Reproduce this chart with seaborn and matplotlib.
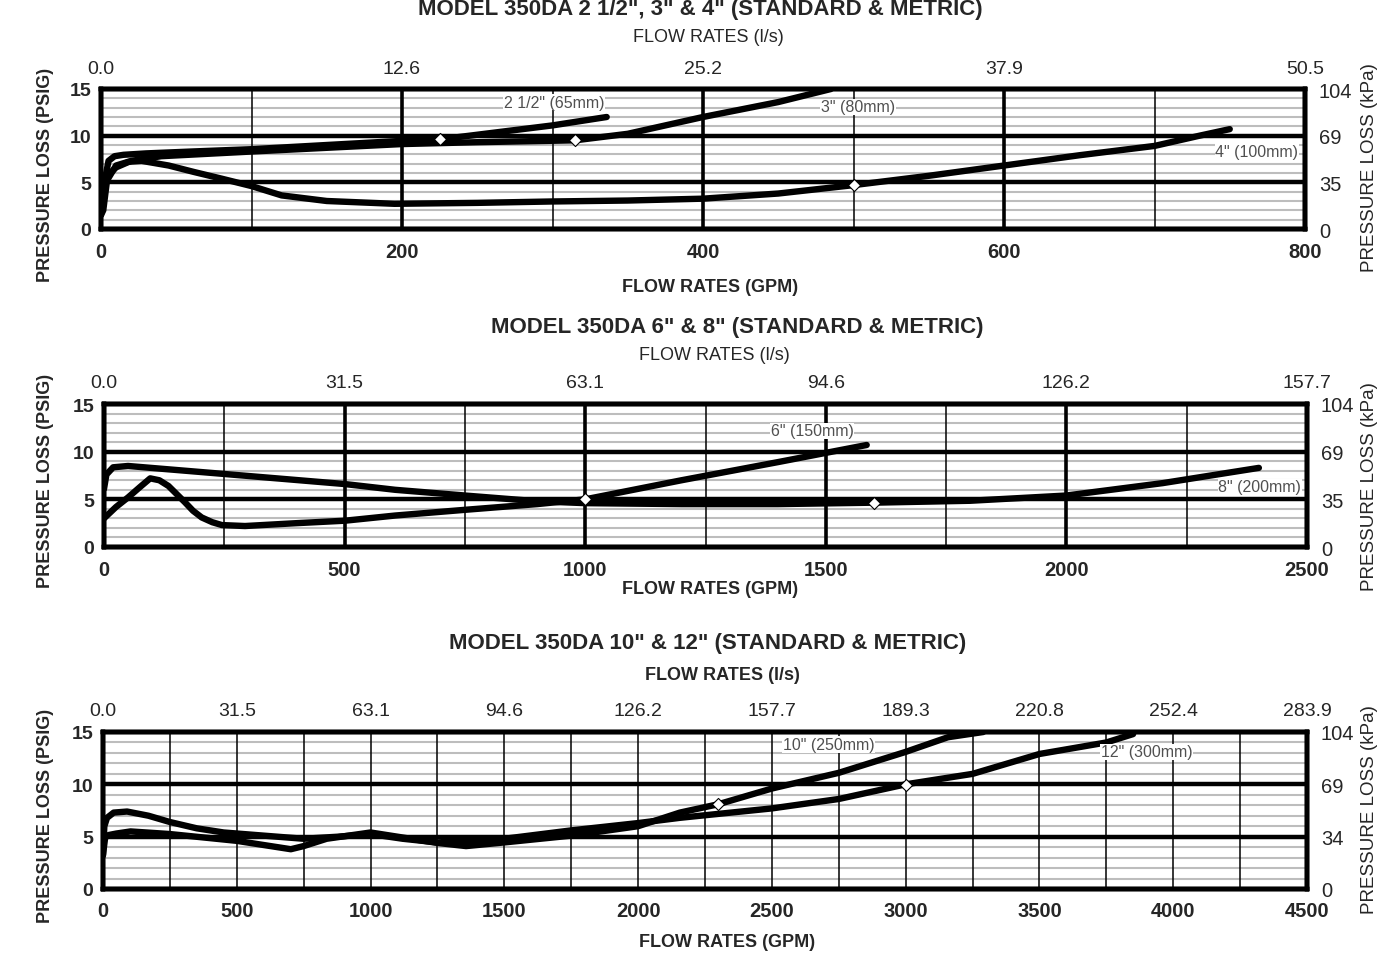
import numpy as np
import pandas as pd
import seaborn as sns
import matplotlib.pyplot as plt

sns.set_style("white")
plt.rcParams['font.family'] = ['Liberation Sans', 'DejaVu Sans']

# ---- panel 1 : 2 1/2", 3", 4"
gpm_65 = [0, 2, 5, 9, 15, 30, 60, 100, 150, 195, 225, 260, 300, 336]
psi_65 = [1.5, 4.8, 7.3, 7.8, 7.95, 8.1, 8.3, 8.55, 9.0, 9.4, 9.6, 10.3, 11.1, 12.0]
gpm_80 = [0, 2, 5, 10, 20, 40, 100, 150, 200, 250, 315, 350, 400, 450, 485]
psi_80 = [3.0, 4.8, 5.8, 6.6, 7.3, 7.8, 8.3, 8.7, 9.1, 9.3, 9.5, 10.2, 12.0, 13.6, 15.0]
gpm_100 = [0, 1.5, 4, 10, 18, 27, 45, 62, 80, 100, 120, 150, 195, 250, 300, 350, 400, 450, 500, 550, 600, 650, 700, 730, 750]
psi_100 = [1.5, 2.0, 5.2, 6.8, 7.2, 7.3, 6.8, 6.1, 5.4, 4.6, 3.6, 3.0, 2.7, 2.8, 2.95, 3.05, 3.25, 3.8, 4.7, 5.7, 6.8, 7.9, 8.9, 10.0, 10.7]
pts1_gpm = [225, 315, 500]
pts1_psi = [9.6, 9.5, 4.7]

# ---- panel 2 : 6", 8"
gpm_150 = [0, 2, 25, 50, 75, 96, 115, 134, 150, 168, 185, 203, 225, 245, 293, 400, 501, 605, 750, 900, 1000, 1200, 1400, 1585]
psi_150 = [3.0, 3.1, 4.2, 5.2, 6.3, 7.2, 7.0, 6.4, 5.6, 4.7, 3.8, 3.1, 2.6, 2.3, 2.2, 2.5, 2.76, 3.3, 3.9, 4.5, 5.0, 7.0, 8.9, 10.7]
gpm_200 = [0, 5, 19, 50, 250, 501, 605, 750, 900, 1000, 1200, 1400, 1600, 1800, 2000, 2200, 2400]
psi_200 = [6.1, 7.6, 8.36, 8.5, 7.66, 6.6, 6.0, 5.4, 4.8, 4.6, 4.5, 4.5, 4.65, 4.85, 5.4, 6.7, 8.3]
pts2_gpm = [1000, 1600]
pts2_psi = [5.0, 4.65]

# ---- panel 3 : 10", 12"
gpm_250 = [0, 8, 20, 50, 103, 250, 500, 702, 750, 836, 1000, 1150, 1250, 1357, 1500, 1750, 2000, 2156, 2300, 2500, 2750, 3000, 3158, 3290]
psi_250 = [3.3, 4.9, 5.15, 5.3, 5.5, 5.25, 4.6, 3.8, 4.1, 4.8, 5.4, 4.8, 4.4, 4.1, 4.45, 5.1, 6.0, 7.3, 8.1, 9.6, 11.1, 13.1, 14.5, 15.0]
gpm_300 = [0, 5, 15, 40, 90, 170, 250, 350, 451, 600, 750, 880, 1000, 1120, 1250, 1500, 1750, 2000, 2156, 2500, 2750, 3000, 3250, 3500, 3750, 3850]
psi_300 = [3.2, 6.0, 6.8, 7.3, 7.4, 7.0, 6.4, 5.8, 5.4, 5.1, 4.8, 5.0, 5.25, 4.8, 4.45, 4.8, 5.6, 6.3, 6.8, 7.7, 8.6, 10.0, 11.0, 12.9, 14.0, 14.8]
pts3_gpm = [2300, 3000]
pts3_psi = [8.1, 9.9]

ls_1 = ['0.0', '12.6', '25.2', '37.9', '50.5']
ls_2 = ['0.0', '31.5', '63.1', '94.6', '126.2', '157.7']
ls_3 = ['0.0', '31.5', '63.1', '94.6', '126.2', '157.7', '189.3', '220.8', '252.4', '283.9']
kpa_1 = ['0', '35', '69', '104']
kpa_2 = ['0', '35', '69', '104']
kpa_3 = ['0', '34', '69', '104']

W, H = 1382, 970
fig = plt.figure(figsize=(W / 100, H / 100), dpi=100)


def fx(px):
    return px / W


def fy(py):
    return 1 - py / H


def panel(box, xmax, xstep, thick_x, gpm_ticks, ls_labels, kpa_labels, curves, pts):
    l, t, r, b = box
    ax = fig.add_axes([fx(l), fy(b), fx(r) - fx(l), fy(t) - fy(b)])
    ax.set_xlim(0, xmax)
    ax.set_ylim(0, 15)
    for y in range(1, 15):
        if y in (5, 10):
            continue
        ax.axhline(y, color='#bdbdbd', lw=1.5, zorder=1)
    for y in (5, 10):
        ax.axhline(y, color='black', lw=3.2, zorder=2)
    for x in np.arange(xstep, xmax, xstep):
        ax.axvline(x, color='black', lw=2.6 if x in thick_x else 1.1, zorder=2)
    for gx, gy in curves:
        sns.lineplot(x=gx, y=gy, ax=ax, color='black', lw=4.6, sort=False,
                     estimator=None, zorder=3)
    sns.scatterplot(x=pts[0], y=pts[1], ax=ax, marker='D', s=38, color='white',
                    edgecolor='black', linewidth=0.8, zorder=5)
    ax.set_xlabel('')
    ax.set_ylabel('')
    ax.set_xticks(gpm_ticks)
    ax.set_xticklabels([str(g) for g in gpm_ticks], fontsize=14.5, fontweight='bold')
    ax.set_yticks([0, 5, 10, 15])
    ax.set_yticklabels(['0', '5', '10', '15'], fontsize=14, fontweight='bold')
    ax.tick_params(axis='x', length=0, pad=9)
    ax.tick_params(axis='y', length=0, pad=7)

    top = ax.twiny()
    top.set_xlim(0, xmax)
    top.set_xticks(gpm_ticks)
    top.set_xticklabels(ls_labels, fontsize=14)
    top.tick_params(length=0, pad=9)

    right = ax.twinx()
    right.set_ylim(0, 15)
    right.set_yticks([0, 5, 10, 15])
    right.set_yticklabels(kpa_labels, fontsize=14.5)
    right.tick_params(length=0, pad=10)

    for a in (ax, top, right):
        for s in a.spines.values():
            s.set_linewidth(3.2)
            s.set_color('black')
    return ax


def tag(ax, x, y, s):
    ax.text(x, y, s, fontsize=11.5, color='#505050', ha='center', va='center', zorder=4,
            bbox=dict(facecolor='white', edgecolor='none', pad=0.5))


# panel 1
ax1 = panel((101, 90, 1305, 230), 800, 100, (200, 400, 600), [0, 200, 400, 600, 800],
            ls_1, kpa_1, [(gpm_65, psi_65), (gpm_80, psi_80), (gpm_100, psi_100)],
            (pts1_gpm, pts1_psi))
tag(ax1, 301, 13.6, '2 1/2" (65mm)')
tag(ax1, 503, 13.1, '3" (80mm)')
tag(ax1, 768, 8.3, '4" (100mm)')

# panel 2
ax2 = panel((104, 405, 1307, 548), 2500, 250, (500, 1000, 1500, 2000),
            [0, 500, 1000, 1500, 2000, 2500], ls_2, kpa_2,
            [(gpm_150, psi_150), (gpm_200, psi_200)], (pts2_gpm, pts2_psi))
tag(ax2, 1472, 12.2, '6" (150mm)')
tag(ax2, 2402, 6.3, '8" (200mm)')

# panel 3
ax3 = panel((103, 733, 1307, 890), 4500, 250, (),
            [0, 500, 1000, 1500, 2000, 2500, 3000, 3500, 4000, 4500], ls_3, kpa_3,
            [(gpm_250, psi_250), (gpm_300, psi_300)], (pts3_gpm, pts3_psi))
tag(ax3, 2713, 13.8, '10" (250mm)')
tag(ax3, 3901, 13.1, '12" (300mm)')

# titles and axis captions
big = dict(fontsize=16, fontweight='bold', ha='center', va='center')
fig.text(fx(700), fy(10), 'MODEL 350DA 2 1/2", 3" & 4" (STANDARD & METRIC)', **big)
fig.text(fx(737), fy(328), 'MODEL 350DA 6" & 8" (STANDARD & METRIC)', **big)
fig.text(fx(708), fy(644), 'MODEL 350DA 10" & 12" (STANDARD & METRIC)', **big)

fig.text(fx(708), fy(37), 'FLOW RATES (l/s)', fontsize=13, ha='center', va='center')
fig.text(fx(714), fy(356), 'FLOW RATES (l/s)', fontsize=13, ha='center', va='center')
fig.text(fx(722), fy(676), 'FLOW RATES (l/s)', fontsize=13, fontweight='bold', ha='center', va='center')

for cx, cy in ((710, 287), (710, 590), (727, 943)):
    fig.text(fx(cx), fy(cy), 'FLOW RATES (GPM)', fontsize=13, fontweight='bold', ha='center', va='center')

for cy in (175, 481, 816):
    fig.text(fx(46), fy(cy), 'PRESSURE LOSS (PSIG)', fontsize=13, fontweight='bold',
             rotation=90, ha='center', va='center')
for cy in (168, 487, 810):
    fig.text(fx(1370), fy(cy), 'PRESSURE LOSS (kPa)', fontsize=13.5,
             rotation=90, ha='center', va='center')

fig.savefig('out.png', dpi=100, facecolor='white')
